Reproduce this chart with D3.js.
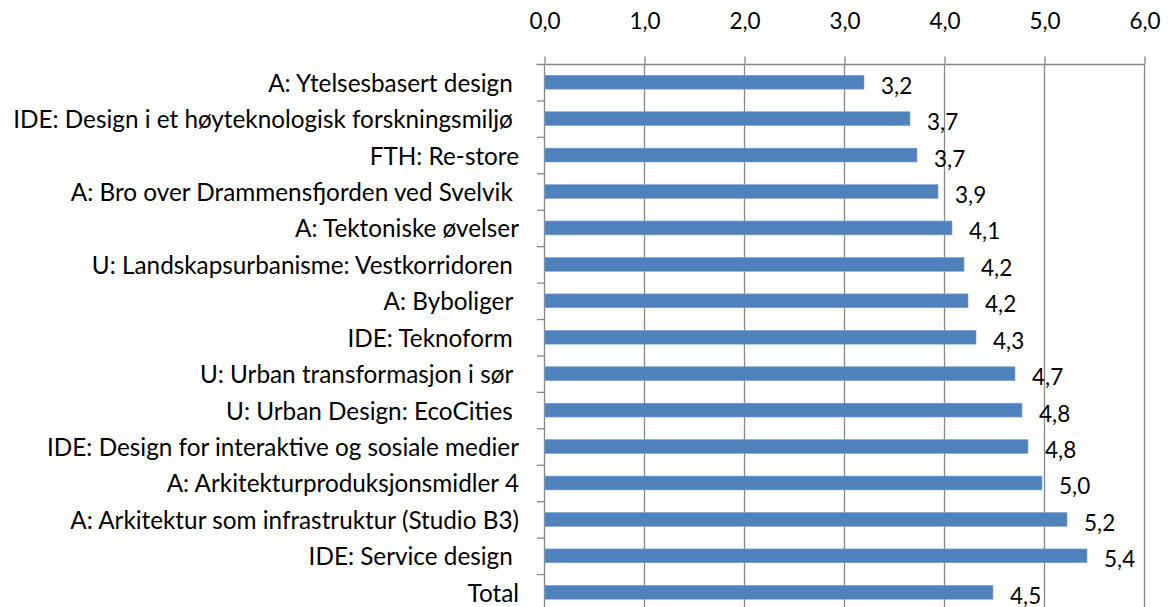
<!DOCTYPE html>
<html>
<head>
<meta charset="utf-8">
<script src="https://cdn.jsdelivr.net/npm/d3@7"></script>
<style>
  html, body { margin: 0; padding: 0; background: #ffffff; }
  svg { display: block; }
  text { font-family: Lato, "Open Sans", sans-serif; fill: #000; }
</style>
</head>
<body>
<svg id="chart" width="1169" height="607"></svg>
<script>
const categories = [
  "A: Ytelsesbasert design ",
  "IDE: Design i et høyteknologisk forskningsmiljø ",
  "FTH: Re-store",
  "A: Bro over Drammensfjorden ved Svelvik ",
  "A: Tektoniske øvelser",
  "U: Landskapsurbanisme: Vestkorridoren ",
  "A: Byboliger ",
  "IDE: Teknoform ",
  "U: Urban transformasjon i sør ",
  "U: Urban Design: EcoCities ",
  "IDE: Design for interaktive og sosiale medier",
  "A: Arkitekturproduksjonsmidler 4",
  "A: Arkitektur som infrastruktur (Studio B3)",
  "IDE: Service design ",
  "Total"
];
const values = [3.20, 3.66, 3.73, 3.94, 4.08, 4.20, 4.24, 4.32, 4.71, 4.78, 4.84, 4.98, 5.23, 5.43, 4.49];
const tickValues = [0, 1, 2, 3, 4, 5, 6];

const fmt = v => d3.format(".1f")(v).replace(".", ",");

const svg = d3.select("#chart");
const mLeft = 544, mRight = 1144, mTop = 64, mBottom = 610.5;

const x = d3.scaleLinear().domain([0, 6]).range([mLeft, mRight]);
const y = d3.scaleBand().domain(categories).range([mTop, mBottom]).paddingInner(0.62).paddingOuter(0.31);
const band = d3.scaleBand().domain(categories).range([mTop, mBottom]);

const gridColor = "#878787";
const numSize = 22.5, catSize = 24.3;

// vertical gridlines
svg.append("g").selectAll("line").data(tickValues.slice(1)).join("line")
  .attr("x1", d => x(d) + 0.5).attr("x2", d => x(d) + 0.5)
  .attr("y1", mTop).attr("y2", 607)
  .attr("stroke", gridColor).attr("stroke-width", 1.3);

// top axis
const xAxis = d3.axisTop(x).tickValues(tickValues).tickFormat(fmt).tickSize(8).tickSizeOuter(0).tickPadding(28);
const gx = svg.append("g").attr("transform", `translate(0.5,${mTop + 0.5})`).call(xAxis);
gx.select(".domain").attr("stroke", gridColor).attr("stroke-width", 1.3)
  .attr("d", `M${mLeft - 8},0H${mRight}`);
gx.selectAll(".tick line").attr("stroke", gridColor).attr("stroke-width", 1.3);
gx.selectAll(".tick text").attr("font-size", numSize).attr("font-family", "Lato, 'Open Sans', sans-serif").attr("fill", "#000");

// left axis line + boundary ticks
svg.append("line").attr("x1", mLeft + 0.5).attr("x2", mLeft + 0.5).attr("y1", mTop).attr("y2", 607)
  .attr("stroke", gridColor).attr("stroke-width", 1.3);
svg.append("g").selectAll("line").data(categories.slice(1)).join("line")
  .attr("x1", mLeft - 7).attr("x2", mLeft)
  .attr("y1", d => band(d) + 0.5).attr("y2", d => band(d) + 0.5)
  .attr("stroke", gridColor).attr("stroke-width", 1.3);

// bars
svg.append("g").selectAll("rect").data(values).join("rect")
  .attr("x", x(0) + 1)
  .attr("y", (d, i) => y(categories[i]))
  .attr("width", d => x(d) - x(0) - 1)
  .attr("height", y.bandwidth())
  .attr("fill", "#4F81BD")
  .attr("stroke", "#7FA3D0").attr("stroke-width", 0.6);

// category labels
svg.append("g").selectAll("text").data(categories).join("text")
  .attr("x", 519)
  .attr("y", d => band(d) + band.bandwidth() / 2)
  .attr("text-anchor", "end")
  .attr("dominant-baseline", "central")
  .attr("font-size", catSize)
  .style("white-space", "pre")
  .text(d => d);

// value labels
svg.append("g").selectAll("text").data(values).join("text")
  .attr("x", d => x(d) + 17)
  .attr("y", (d, i) => y(categories[i]) + y.bandwidth() / 2 + 3)
  .attr("dominant-baseline", "central")
  .attr("font-size", numSize)
  .text(d => fmt(d));
</script>
</body>
</html>
